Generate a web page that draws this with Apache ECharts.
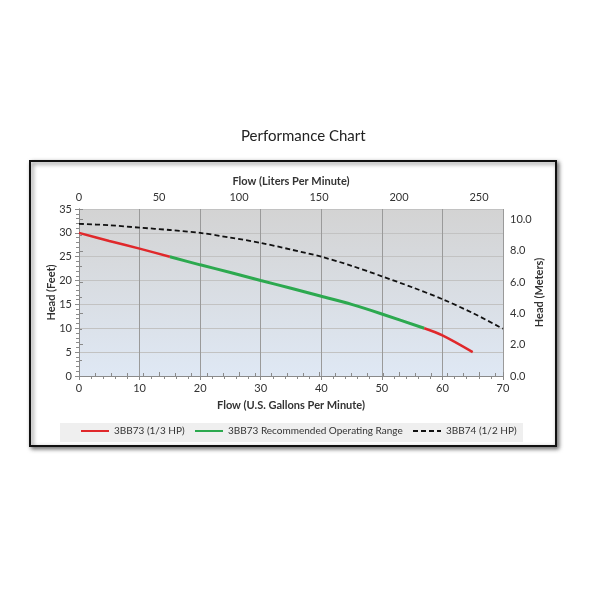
<!DOCTYPE html>
<html>
<head>
<meta charset="utf-8">
<script src="https://cdn.jsdelivr.net/npm/echarts@6/dist/echarts.min.js"></script>
<style>
  html, body { margin: 0; padding: 0; background: #fff; }
  #chart { width: 590px; height: 590px; }
</style>
</head>
<body>
<div id="chart"></div>
<script>
// pump curves: [flow gpm, head ft]
const red73Low = [[0, 30], [5, 28.3], [10, 26.7], [15, 25]];
const green73 = [[15, 25], [20, 23.3], [25, 21.7], [30, 20], [35, 18.4], [40, 16.7], [45, 15], [50, 13], [57, 10]];
const red73High = [[57, 10], [60, 8.5], [65, 5]];
const dashed74 = [[0, 31.9], [5, 31.6], [10, 31.1], [15, 30.6], [20, 30], [25, 29], [30, 27.9], [35, 26.5],
  [40, 25], [45, 23.1], [50, 20.9], [55, 18.6], [60, 16.1], [65, 13.2], [70, 9.9]];

const seriesNames = ['3BB73 (1/3 HP)', '3BB73 Recommended Operating Range', '3BB74 (1/2 HP)'];
const gpmMax = 70, feetMax = 35;
const litersMax = gpmMax * 3.78541;
const metersMax = feetMax * 0.3048;

const font = 'Lato, "Open Sans", sans-serif';
const txt = '#333';

let chart = echarts.init(document.getElementById('chart'), null, { renderer: 'canvas' });

chart.setOption({
  animation: false,
  backgroundColor: '#fff',
  textStyle: { fontFamily: font },
  title: {
    text: 'Performance Chart', left: 236, top: 124,
    textStyle: { fontFamily: font, fontSize: 15, fontWeight: 'normal', color: '#222' }
  },
  graphic: [
    {
      type: 'rect', z: -10,
      shape: { x: 30, y: 161, width: 526, height: 285 },
      style: { fill: '#fff', stroke: '#111', lineWidth: 2, shadowBlur: 4, shadowOffsetX: 2, shadowOffsetY: 2, shadowColor: 'rgba(0,0,0,0.55)' }
    },
    {
      type: 'rect', z: -9,
      shape: { x: 60, y: 423, width: 463, height: 19 },
      style: { fill: '#efefef' }
    }
  ],
  grid: {
    left: 79, right: 87, top: 209, bottom: 214, show: true, borderWidth: 0,
    backgroundColor: new echarts.graphic.LinearGradient(0, 0, 0, 1, [
      { offset: 0, color: '#d3d3d3' }, { offset: 1, color: '#dfe8f4' }
    ])
  },
  legend: seriesNames.map((n, i) => ({
    data: [n], left: [80, 194, 412][i], top: 426, itemWidth: 28, itemHeight: 10, itemGap: 4, padding: 0,
    itemStyle: { opacity: 0 },
    textStyle: { fontFamily: font, fontSize: 10, color: txt }
  })),
  xAxis: [
    {
      type: 'value', position: 'bottom', min: 0, max: gpmMax, interval: 10,
      name: 'Flow (U.S. Gallons Per Minute)', nameLocation: 'middle', nameGap: 24, nameMoveOverlap: false,
      nameTextStyle: { fontFamily: font, fontSize: 11, fontWeight: 'bold', color: txt },
      axisLine: { lineStyle: { color: '#8a8a8a' } },
      axisTick: { length: 4, lineStyle: { color: '#8a8a8a' } },
      minorTick: { show: true, splitNumber: 5, length: 3, lineStyle: { color: '#8a8a8a' } },
      axisLabel: { fontSize: 11, color: txt, margin: 7 },
      splitLine: { show: true, lineStyle: { color: '#9a9a9a', width: 1 } }
    },
    {
      type: 'value', position: 'top', min: 0, max: litersMax, interval: 50,
      name: 'Flow (Liters Per Minute)', nameLocation: 'middle', nameGap: 22, nameMoveOverlap: false,
      nameTextStyle: { fontFamily: font, fontSize: 11, fontWeight: 'bold', color: txt },
      axisLine: { lineStyle: { color: '#8a8a8a' } },
      axisTick: { length: 4, lineStyle: { color: '#8a8a8a' } },
      minorTick: { show: true, splitNumber: 5, length: 3, lineStyle: { color: '#8a8a8a' } },
      axisLabel: { fontSize: 11, color: txt, margin: 6, formatter: v => v > 255 ? '' : v },
      splitLine: { show: false }
    }
  ],
  yAxis: [
    {
      type: 'value', position: 'left', min: 0, max: feetMax, interval: 5,
      name: 'Head (Feet)', nameLocation: 'middle', nameGap: 22, nameRotate: 90, nameMoveOverlap: false,
      nameTextStyle: { fontFamily: font, fontSize: 11, fontWeight: 'bold', color: txt },
      axisLine: { show: true, lineStyle: { color: '#8a8a8a' } },
      axisTick: { show: true, length: 4, lineStyle: { color: '#8a8a8a' } },
      minorTick: { show: true, splitNumber: 5, length: 3, lineStyle: { color: '#8a8a8a' } },
      axisLabel: { fontSize: 11, color: txt, margin: 7 },
      splitLine: { show: true, lineStyle: { color: '#c2c2c2', width: 1 } }
    },
    {
      type: 'value', position: 'right', min: 0, max: metersMax, interval: 2,
      name: 'Head (Meters)', nameLocation: 'middle', nameGap: 31, nameRotate: 90, nameMoveOverlap: false,
      nameTextStyle: { fontFamily: font, fontSize: 11, fontWeight: 'bold', color: txt },
      axisLine: { show: true, lineStyle: { color: '#8a8a8a' } },
      axisTick: { show: true, length: 4, lineStyle: { color: '#8a8a8a' } },
      minorTick: { show: true, splitNumber: 2, length: 3, lineStyle: { color: '#8a8a8a' } },
      axisLabel: { fontSize: 11, color: txt, margin: 7, formatter: v => v > 10.1 ? '' : v.toFixed(1) },
      splitLine: { show: false }
    }
  ],
  series: [
    {
      name: seriesNames[0], type: 'line', data: red73Low, symbol: 'none', smooth: 0.3,
      itemStyle: { color: '#e0282b' }, lineStyle: { color: '#e0282b', width: 2.5 }, z: 4
    },
    {
      name: seriesNames[1], type: 'line', data: green73, symbol: 'none', smooth: 0.3,
      itemStyle: { color: '#2ca94f' }, lineStyle: { color: '#2ca94f', width: 3 }, z: 3
    },
    {
      name: seriesNames[0], type: 'line', data: red73High, symbol: 'none', smooth: 0.3,
      itemStyle: { color: '#e0282b' }, lineStyle: { color: '#e0282b', width: 2.5 }, z: 4
    },
    {
      name: seriesNames[2], type: 'line', data: dashed74, symbol: 'none', smooth: 0.3,
      itemStyle: { color: '#111' }, lineStyle: { color: '#111', width: 1.8, type: [5, 3] }, z: 2
    }
  ]
});
</script>
</body>
</html>
